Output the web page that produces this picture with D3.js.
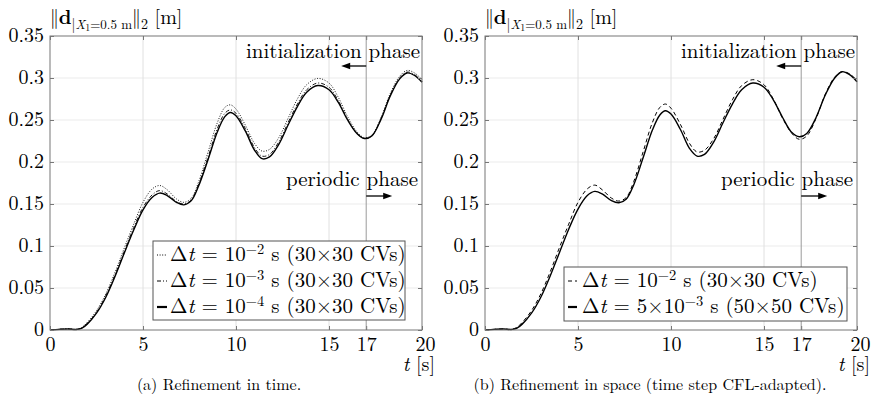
<!DOCTYPE html>
<html><head><meta charset="utf-8">
<script src="https://cdn.jsdelivr.net/npm/d3@7"></script>
<style>
body{margin:0;background:#fff}
svg{display:block}
</style>
</head><body>
<svg id="c" width="871" height="404"></svg>
<script>
// ---------------- data ----------------
const T = [0,0.5,1,1.4,1.7,2,2.5,3,3.5,4,4.5,5,5.5,5.9,6.3,6.8,7.2,7.6,8,8.5,9,9.4,9.7,10,10.5,11,11.4,11.8,12.3,12.8,13.3,13.8,14.4,15,15.5,16,16.5,16.9,17.3,17.8,18.3,18.8,19.2,19.6,20];

// (a) refinement in time, 30x30 CVs
const dt1e2 = [0,0.0008,0.0012,0.0008,0.003,0.009,0.023,0.043,0.069,0.098,0.126,0.152,0.168,0.172,0.167,0.156,0.152,0.157,0.177,0.212,0.247,0.265,0.268,0.263,0.244,0.222,0.213,0.215,0.229,0.252,0.275,0.292,0.2995,0.294,0.277,0.254,0.236,0.229,0.232,0.253,0.282,0.302,0.309,0.306,0.298];
const dt1e3 = [0,0.0008,0.0012,0.0007,0.0025,0.008,0.021,0.041,0.066,0.094,0.122,0.146,0.161,0.166,0.162,0.153,0.150,0.155,0.174,0.206,0.240,0.258,0.262,0.258,0.240,0.217,0.207,0.209,0.224,0.247,0.269,0.286,0.294,0.289,0.273,0.251,0.234,0.228,0.231,0.252,0.280,0.300,0.307,0.304,0.296];
const dt1e4 = [0,0.0008,0.0012,0.0006,0.002,0.007,0.020,0.039,0.064,0.092,0.119,0.143,0.158,0.163,0.160,0.152,0.149,0.154,0.172,0.203,0.236,0.254,0.259,0.255,0.237,0.214,0.204,0.206,0.221,0.244,0.266,0.283,0.291,0.286,0.271,0.250,0.234,0.228,0.231,0.251,0.279,0.299,0.306,0.303,0.295];

// (b) refinement in space
const cv30 = [0,0.0008,0.0012,0.0008,0.003,0.009,0.023,0.043,0.069,0.098,0.126,0.152,0.168,0.1725,0.167,0.157,0.1535,0.158,0.177,0.212,0.247,0.265,0.269,0.264,0.245,0.222,0.212,0.214,0.228,0.251,0.274,0.291,0.298,0.292,0.275,0.252,0.234,0.227,0.231,0.252,0.281,0.301,0.3075,0.305,0.297];
const cv50 = [0,0.0008,0.0012,0.0006,0.002,0.007,0.020,0.039,0.064,0.092,0.120,0.144,0.160,0.165,0.162,0.154,0.1515,0.156,0.173,0.205,0.238,0.256,0.261,0.257,0.239,0.216,0.207,0.209,0.224,0.247,0.269,0.286,0.294,0.289,0.274,0.253,0.235,0.230,0.234,0.253,0.280,0.300,0.3075,0.304,0.2956];

const xTicks = [0,5,10,15,17,20];
const xTickLabels = ["0","5","10","15","17","20"];
const yTicks = [0,0.05,0.1,0.15,0.2,0.25,0.3,0.35];
const yTickLabels = ["0","0.05","0.1","0.15","0.2","0.25","0.3","0.35"];
const captions = ["(a) Refinement in time.","(b) Refinement in space (time step CFL-adapted)."];
const legendA = [["10","\u22122"," s (30\u00d730 CVs)"],["10","\u22123"," s (30\u00d730 CVs)"],["10","\u22124"," s (30\u00d730 CVs)"]];
const legendB = [["10","\u22122"," s (30\u00d730 CVs)"],["5\u00d710","\u22123"," s (50\u00d750 CVs)"]];

// ---------------- drawing ----------------
const FONT = '"Latin Modern Roman"';
const svg = d3.select("#c");
const y = d3.scaleLinear([0,0.35],[330,36]);

const styles = {
  dotted:{w:0.9,dash:"1,1.6"},
  dashdot:{w:0.9,dash:"4,2,1,2"},
  dashed:{w:1,dash:"4,3"},
  solid:{w:1.4,dash:null}
};

function txt(sel){ return sel.append("text").style("font-family",FONT).attr("fill","#000"); }

function panel(opt){
  const x = d3.scaleLinear([0,20],[opt.x0,opt.x1]);
  const g = svg.append("g");
  // grid
  g.selectAll(".hg").data(yTicks.slice(1,-1)).join("line")
    .attr("x1",opt.x0).attr("x2",opt.x1).attr("y1",d=>y(d)).attr("y2",d=>y(d))
    .attr("stroke","#ebebeb").attr("stroke-width",1);
  g.selectAll(".vg").data([5,10,15]).join("line")
    .attr("y1",y(0)).attr("y2",y(0.35)).attr("x1",d=>x(d)).attr("x2",d=>x(d))
    .attr("stroke","#e0e0e0").attr("stroke-width",1);
  g.append("line").attr("y1",y(0)).attr("y2",y(0.35)).attr("x1",x(17)).attr("x2",x(17))
    .attr("stroke","#9a9a9a").attr("stroke-width",1);

  // curves
  const line = d3.line().x((d,i)=>x(T[i])).y(d=>y(d)).curve(d3.curveCatmullRom.alpha(0.5));
  opt.series.forEach(s=>{
    const st = styles[s.style];
    g.append("path").attr("d",line(s.values)).attr("fill","none").attr("stroke","#000")
      .attr("stroke-width",st.w).attr("stroke-dasharray",st.dash);
  });

  // axes
  const bx = g.append("g").attr("transform",`translate(0,${y(0)})`).attr("color","#777")
    .call(d3.axisBottom(x).tickValues(xTicks).tickFormat((d,i)=>xTickLabels[i]).tickSize(-4).tickPadding(7));
  const tx = g.append("g").attr("transform",`translate(0,${y(0.35)})`).attr("color","#777")
    .call(d3.axisTop(x).tickValues(xTicks).tickFormat("").tickSize(-4));
  const ly = g.append("g").attr("transform",`translate(${opt.x0},0)`).attr("color","#777")
    .call(d3.axisLeft(y).tickValues(yTicks).tickFormat((d,i)=>yTickLabels[i]).tickSize(-4).tickPadding(6));
  const ry = g.append("g").attr("transform",`translate(${opt.x1},0)`).attr("color","#777")
    .call(d3.axisRight(y).tickValues(yTicks).tickFormat("").tickSize(-4));
  [bx,tx,ly,ry].forEach(a=>a.select(".domain").remove());
  g.selectAll(".tick text").attr("fill","#000").style("font-size","20px").style("font-family",FONT);
  ly.selectAll(".tick text").attr("dy","0.25em");
  bx.selectAll(".tick text").attr("dx",(d)=>d===20?"3px":"0px");

  g.append("rect").attr("x",opt.x0).attr("y",y(0.35)).attr("width",opt.x1-opt.x0).attr("height",y(0)-y(0.35))
    .attr("fill","none").attr("stroke","#777").attr("stroke-width",1);

  // legend
  const L = opt.legend;
  g.append("rect").attr("x",L.x).attr("y",L.y).attr("width",L.w).attr("height",L.h)
    .attr("fill","#fff").attr("stroke","#555").attr("stroke-width",1);
  L.items.forEach((it,i)=>{
    const by = L.y + L.first + i*L.step;
    const st = styles[it.style];
    g.append("line").attr("x1",L.x+L.s0).attr("x2",L.x+L.s1).attr("y1",by-6).attr("y2",by-6)
      .attr("stroke","#000").attr("stroke-width",it.style==="solid"?2.2:1).attr("stroke-dasharray",st.dash);
    const t = txt(g).attr("x",L.x+L.tx).attr("y",by).style("font-size","21px");
    t.append("tspan").text("\u0394");
    t.append("tspan").style("font-style","italic").text("t");
    t.append("tspan").text(" = "+it.lab[0]);
    t.append("tspan").attr("dy",-7).style("font-size","14.5px").text(it.lab[1]);
    t.append("tspan").attr("dy",7).text(it.lab[2]);
  });

  // annotations
  txt(g).attr("x",opt.x1-2).attr("y",58).attr("text-anchor","end").style("font-size","21px").text("initialization phase");
  txt(g).attr("x",opt.x1-4).attr("y",186).attr("text-anchor","end").style("font-size","21px").text("periodic phase");
  const arrow = (xa,xb,yy)=>{
    const dir = Math.sign(xb-xa);
    g.append("line").attr("x1",xa).attr("x2",xb-dir*6).attr("y1",yy).attr("y2",yy).attr("stroke","#000").attr("stroke-width",1.3);
    g.append("path").attr("d",`M${xb},${yy}L${xb-dir*9},${yy-3.2}L${xb-dir*9},${yy+3.2}Z`).attr("fill","#000");
  };
  arrow(x(17),x(17)-25,66);
  arrow(x(17),x(17)+26,196);

  // y label
  const yl = txt(g).attr("x",opt.x0).attr("y",24).style("font-size","20px");
  yl.append("tspan").style("letter-spacing","-2.4px").text("||");
  yl.append("tspan").attr("dx",2.5).style("font-weight","bold").text("d");
  yl.append("tspan").attr("dy",5).style("font-size","14px").text("|");
  yl.append("tspan").style("font-size","13px").style("font-style","italic").text("X");
  yl.append("tspan").attr("dy",2).style("font-size","10px").text("1");
  yl.append("tspan").attr("dy",-2).style("font-size","13px").text("=0.5 m");
  yl.append("tspan").attr("dy",-5).style("font-size","20px").style("letter-spacing","-2.4px").text("||");
  yl.append("tspan").attr("dx",2.5).attr("dy",5).style("font-size","14px").text("2");
  yl.append("tspan").attr("dy",-5).style("font-size","20px").text(" [m]");

  // x label
  const xl = txt(g).attr("x",opt.x1+13).attr("y",371).attr("text-anchor","end").style("font-size","20px");
  xl.append("tspan").style("font-style","italic").text("t");
  xl.append("tspan").text(" [s]");

  // caption
  txt(g).attr("x",opt.cx).attr("y",390).attr("text-anchor","middle").style("font-size","16px").text(opt.caption);
}

panel({x0:50,x1:422,cx:219,caption:captions[0],
  series:[{values:dt1e2,style:"dotted"},{values:dt1e3,style:"dashdot"},{values:dt1e4,style:"solid"}],
  legend:{x:153,y:241,w:252,h:79,first:20,step:26,s0:4,s1:14,tx:17,
    items:[{lab:legendA[0],style:"dotted"},{lab:legendA[1],style:"dashdot"},{lab:legendA[2],style:"solid"}]}});

panel({x0:485,x1:857,cx:650,caption:captions[1],
  series:[{values:cv30,style:"dashed"},{values:cv50,style:"solid"}],
  legend:{x:564,y:267,w:283,h:54,first:20,step:26,s0:4,s1:13,tx:18,
    items:[{lab:legendB[0],style:"dashed"},{lab:legendB[1],style:"solid"}]}});
</script>
</body></html>
